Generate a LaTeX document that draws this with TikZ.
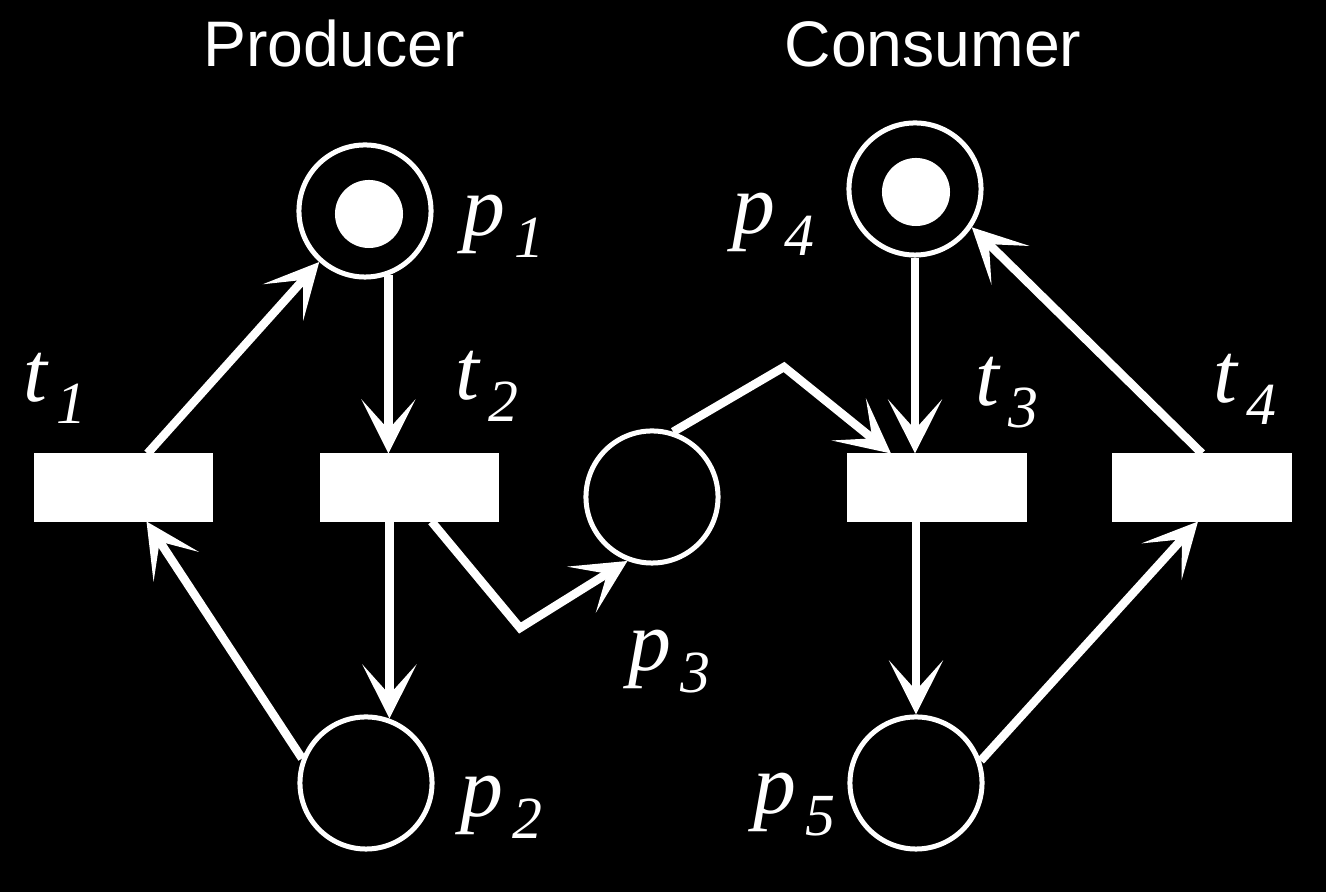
\documentclass[tikz,border=0pt]{standalone}
\usepackage{fontspec}
\setmainfont{Liberation Serif}
\newfontfamily\titlefont{Liberation Sans}
\usetikzlibrary{arrows.meta,calc}
\newcommand\plab[2]{{\fontsize{24.4}{28}\selectfont\itshape #1\kern2.5pt\raisebox{-6pt}{\fontsize{17}{20}\selectfont #2}}}
\begin{document}
\begin{tikzpicture}[x=0.01cm,y=-0.01cm,
  place/.style={circle,draw=white,line width=0.05cm,minimum size=1.32cm,inner sep=0pt},
  token/.style={circle,fill=white,minimum size=0.68cm,inner sep=0pt},
  trans/.style={rectangle,fill=white,minimum width=1.79cm,minimum height=0.68cm,inner sep=0pt,outer sep=0pt},
  arc/.style={draw=white,line width=0.085cm,-{Stealth[length=5.4mm,width=5.4mm,inset=3mm]}},
  lab/.style={text=white,inner sep=0pt,anchor=base west},
  title/.style={text=white,inner sep=0pt,anchor=base,font=\titlefont\fontsize{18.3}{22}\selectfont}]
\fill[black] (0,0) rectangle (1326,892);
\useasboundingbox (0,0) rectangle (1326,892);

% titles
\node[title] (tp) at (334,67) {Producer};
\node[title] (tc) at (933,67) {Consumer};

% places
\node[place] (p1) at (365,211) {};
\node[token] (k1) at (369,214) {};
\node[place] (p2) at (366,783) {};
\node[place] (p3) at (652,497) {};
\node[place] (p4) at (915,189) {};
\node[token] (k4) at (916,192) {};
\node[place] (p5) at (916,783) {};

% transitions
\node[trans] (t1) at (123.5,487.5) {};
\node[trans] (t2) at (409.5,487.5) {};
\node[trans] (t3) at (937,487.5) {};
\node[trans] (t4) at (1202,487.5) {};

% labels
\node[lab] (lp1) at (462,236) {\plab{p}{1}};
\node[lab] (lp2) at (460,817) {\plab{p}{2}};
\node[lab] (lp3) at (628,671) {\plab{p}{3}};
\node[lab] (lp4) at (732,234) {\plab{p}{4}};
\node[lab] (lp5) at (753,814) {\plab{p}{5}};
\node[lab] (lt1) at (23,402) {\plab{t}{1}};
\node[lab] (lt2) at (455,400) {\plab{t}{2}};
\node[lab] (lt3) at (975,406) {\plab{t}{3}};
\node[lab] (lt4) at (1213,403) {\plab{t}{4}};

% bend points
\coordinate (b1) at (520,628);
\coordinate (b2) at (784,367);

% arcs
\draw[arc] ($(t1.north)+(24,0)$) -- (p1);
\draw[arc] (p1.-70) -- (p1.-70 |- t2.north);
\draw[arc] (p2.70 |- t2.south) -- (p2.70);
\draw[arc] (p2.159) -- ($(t1.south)+(23,0)$);
\draw[arc] ($(t2.south)+(22,0)$) -- (b1) -- (p3.-111);
\draw[arc] (p3.72) -- (b2) -- ($(t3.north)+(-46,0)$);
\draw[arc] (p4.south) -- (p4.south |- t3.north);
\draw[arc] (p5.north |- t3.south) -- (p5.north);
\draw[arc] (p5.19) -- ($(t4.south)+(-4,0)$);
\draw[arc] (t4.north) -- (p4.-34);
\end{tikzpicture}
\end{document}
